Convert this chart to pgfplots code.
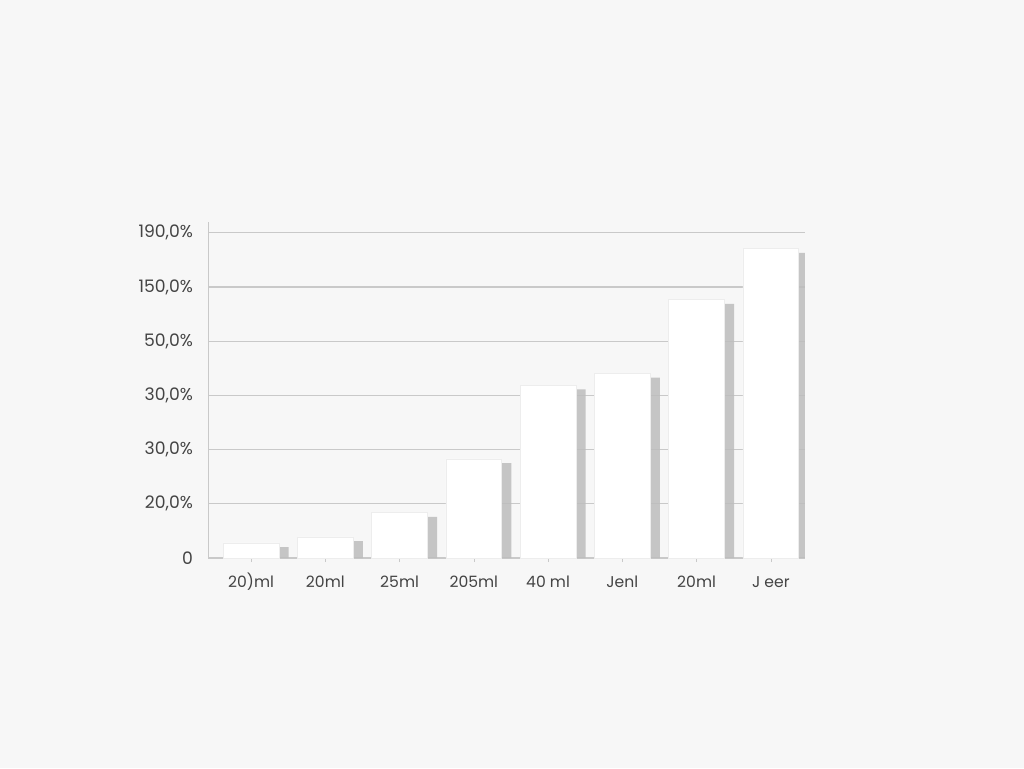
\documentclass[border=0pt]{standalone}
\usepackage{fontspec}
\setmainfont{Poppins}
\usepackage{pgfplots}
\pgfplotsset{compat=1.18}
\definecolor{bg}{HTML}{F7F7F7}
\definecolor{gridc}{HTML}{C9C9C9}
\definecolor{txt}{HTML}{444444}
\begin{document}
\begin{tikzpicture}
\fill[bg] (0,0) rectangle (512pt,384pt);
\useasboundingbox (0,0) rectangle (512pt,384pt);
\begin{axis}[
  at={(104pt,105pt)}, anchor=south west,
  scale only axis, width=298.5pt, height=168pt,
  xmin=-0.58, xmax=7.46, ymin=0, ymax=6.2,
  axis x line=bottom, axis y line=left,
  axis line style={gridc, -},
  ytick={0,1,2,3,4,5,6},
  yticklabels={0,20{,}0\%,30{,}0\%,30{,}0\%,50{,}0\%,150{,}0\%,190{,}0\%},
  xtick={0,...,7},
  xticklabels={20)ml,20ml,25ml,205ml,40 ml,Jenl,20ml,J eer},
  ymajorgrids, grid style={gridc, line width=0.6pt},
  major tick length=2pt,
  ytick style={draw=none},
  xtick style={gridc},
  tick align=outside,
  yticklabel style={font=\fontsize{8.6}{9}\selectfont, text=txt, xshift=-2pt},
  xticklabel style={font=\fontsize{7.8}{9}\selectfont, text=txt, yshift=-0.5pt,
    text height=1.6ex, text depth=0.3ex},
  bar width=0.75,
]
% shadow behind bars
\addplot[ybar, bar shift=0.13, draw=none, fill=black!26, opacity=0.85]
  coordinates {(0,0.2) (1,0.31) (2,0.76) (3,1.75) (4,3.11) (5,3.33) (6,4.69) (7,5.63)};
% bars
\addplot[ybar, bar shift=0, draw=white!93!black, line width=0.3pt, fill=white]
  coordinates {(0,0.28) (1,0.39) (2,0.84) (3,1.83) (4,3.19) (5,3.41) (6,4.77) (7,5.71)};
\end{axis}
\end{tikzpicture}
\end{document}
